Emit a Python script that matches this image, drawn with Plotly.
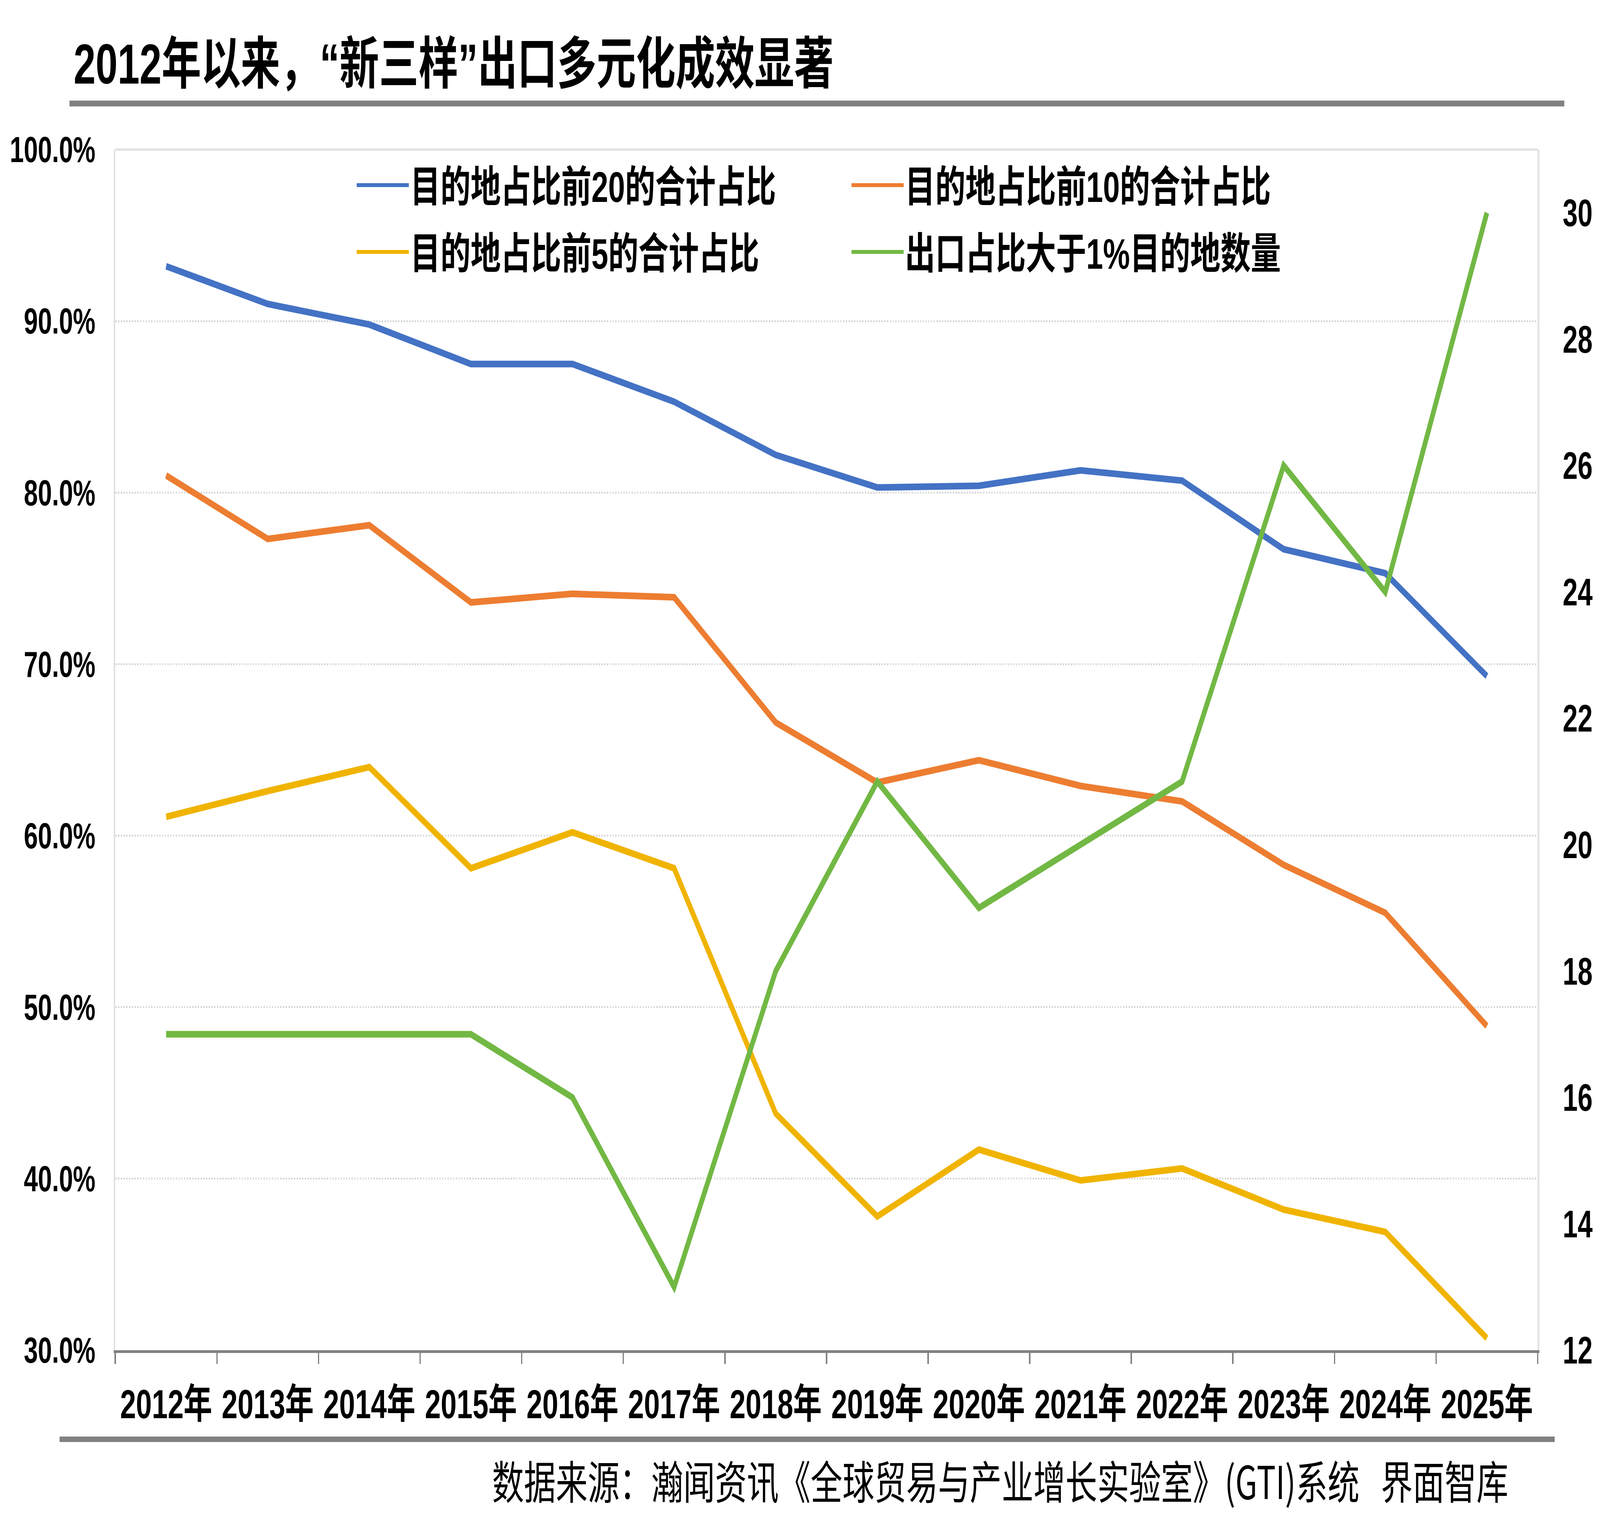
import plotly.graph_objects as go

years = ["2012年", "2013年", "2014年", "2015年", "2016年", "2017年", "2018年",
         "2019年", "2020年", "2021年", "2022年", "2023年", "2024年", "2025年"]
top20_share = [93.2, 91.0, 89.8, 87.5, 87.5, 85.3, 82.2, 80.3, 80.4, 81.3, 80.7, 76.7, 75.3, 69.3]
top10_share = [81.0, 77.3, 78.1, 73.6, 74.1, 73.9, 66.6, 63.1, 64.4, 62.9, 62.0, 58.3, 55.5, 48.9]
top5_share = [61.1, 62.6, 64.0, 58.1, 60.2, 58.1, 43.8, 37.8, 41.7, 39.9, 40.6, 38.2, 36.9, 30.7]
dest_count = [17, 17, 17, 17, 16, 13, 18, 21, 19, 20, 21, 26, 24, 30]

names = ["目的地占比前20的合计占比", "目的地占比前10的合计占比",
         "目的地占比前5的合计占比", "出口占比大于1%目的地数量"]
colors = ["#4472C4", "#ED7D31", "#F0B400", "#72B844"]

left_ticks = [30, 40, 50, 60, 70, 80, 90, 100]
left_ticktext = ["%.1f%%" % v for v in left_ticks]
right_ticks = [12, 14, 16, 18, 20, 22, 24, 26, 28, 30]

title_text = "2012年以来，“新三样”出口多元化成效显著"
source_text = "数据来源：瀚闻资讯《全球贸易与产业增长实验室》(GTI)系统   界面智库"

W, H = 5827, 3884
L, R, T, B = 420, 5600, 383, 3457
FONT = "Liberation Sans, Noto Sans CJK SC, sans-serif"
LW = 17


def px_x(px):
    return (px - L) / (R - L)


def px_y(py):
    return (B - py) / (B - T)


fig = go.Figure()
series = [top20_share, top10_share, top5_share]
legends = ["legend", "legend", "legend2"]
for vals, nm, col, lg in zip(series, names[:3], colors[:3], legends):
    fig.add_trace(go.Scatter(x=years, y=vals, name=nm, mode="lines",
                             line=dict(color=col, width=LW), legend=lg))
fig.add_trace(go.Scatter(x=years, y=dest_count, name=names[3], mode="lines",
                         line=dict(color=colors[3], width=LW), yaxis="y2",
                         legend="legend2"))

legend_common = dict(orientation="h", xanchor="left", yanchor="middle",
                     font=dict(family=FONT, size=110, color="#000000", weight="bold"),
                     bgcolor="rgba(0,0,0,0)", entrywidth=1597, entrywidthmode="pixels",
                     itemwidth=190, traceorder="normal")

fig.update_layout(
    template="none",
    width=W, height=H, autosize=False,
    paper_bgcolor="white", plot_bgcolor="white",
    margin=dict(l=L, r=W - R, t=T, b=H - B, pad=0, autoexpand=False),
    showlegend=True,
    legend=dict(x=px_x(1294), y=px_y(474), **legend_common),
    legend2=dict(x=px_x(1294), y=px_y(645), **legend_common),
    xaxis=dict(
        type="category", tickson="boundaries", ticks="outside", ticklen=28,
        tickwidth=5, tickcolor="#808080", showline=True, linecolor="#808080",
        linewidth=7, showgrid=False, zeroline=False, automargin=False,
        tickfont=dict(family=FONT, size=104, color="#000000", weight="bold"),
        ticklabelstandoff=42, range=[-0.5, 13.5],
    ),
    yaxis=dict(
        range=[30, 100], tickvals=left_ticks, ticktext=left_ticktext,
        showgrid=True, gridcolor="#D9D9D9", gridwidth=5, griddash="dot",
        showline=True, linecolor="#E3E3E3", linewidth=6, mirror=True,
        zeroline=False, ticks="", ticklabelstandoff=48, automargin=False,
        tickfont=dict(family=FONT, size=92, color="#000000", weight="bold"),
    ),
    yaxis2=dict(
        range=[12, 31], tickvals=right_ticks, overlaying="y", side="right",
        showgrid=False, zeroline=False, showline=False, ticks="",
        ticklabelstandoff=90, automargin=False,
        tickfont=dict(family=FONT, size=98, color="#000000", weight="bold"),
    ),
    shapes=[
        dict(type="line", xref="paper", yref="paper", x0=0, x1=1, y0=1, y1=1,
             line=dict(color="#E3E3E3", width=6)),
        dict(type="line", xref="paper", yref="paper", x0=px_x(253), x1=px_x(5697),
             y0=px_y(265), y1=px_y(265), line=dict(color="#808080", width=15)),
        dict(type="line", xref="paper", yref="paper", x0=px_x(217), x1=px_x(5662),
             y0=px_y(3685), y1=px_y(3685), line=dict(color="#808080", width=14)),
    ],
    annotations=[
        dict(text=title_text, xref="paper", yref="paper", x=px_x(266), y=px_y(165),
             xanchor="left", yanchor="middle", showarrow=False,
             font=dict(family=FONT, size=144, color="#000000", weight="bold")),
        dict(text=source_text, xref="paper", yref="paper", x=px_x(5495), y=px_y(3787),
             xanchor="right", yanchor="middle", showarrow=False,
             font=dict(family="Noto Sans CJK SC, sans-serif", size=116, color="#000000")),
    ],
)

# Fit the fixed-size figure into the actual browser viewport (the browser may cap
# the window width below the requested 5827 px).
post = """
var gd = document.getElementById('{plot_id}');
document.documentElement.style.overflow = 'hidden';
document.body.style.margin = '0';
document.body.style.overflow = 'hidden';
var sx = Math.min(1, window.innerWidth / %d), sy = Math.min(1, window.innerHeight / %d);
gd.style.transformOrigin = '0 0';
gd.style.transform = 'scale(' + sx + ',' + sy + ')';
""" % (W, H)
fig.write_html("out.html", post_script=post, config={"displayModeBar": False})
